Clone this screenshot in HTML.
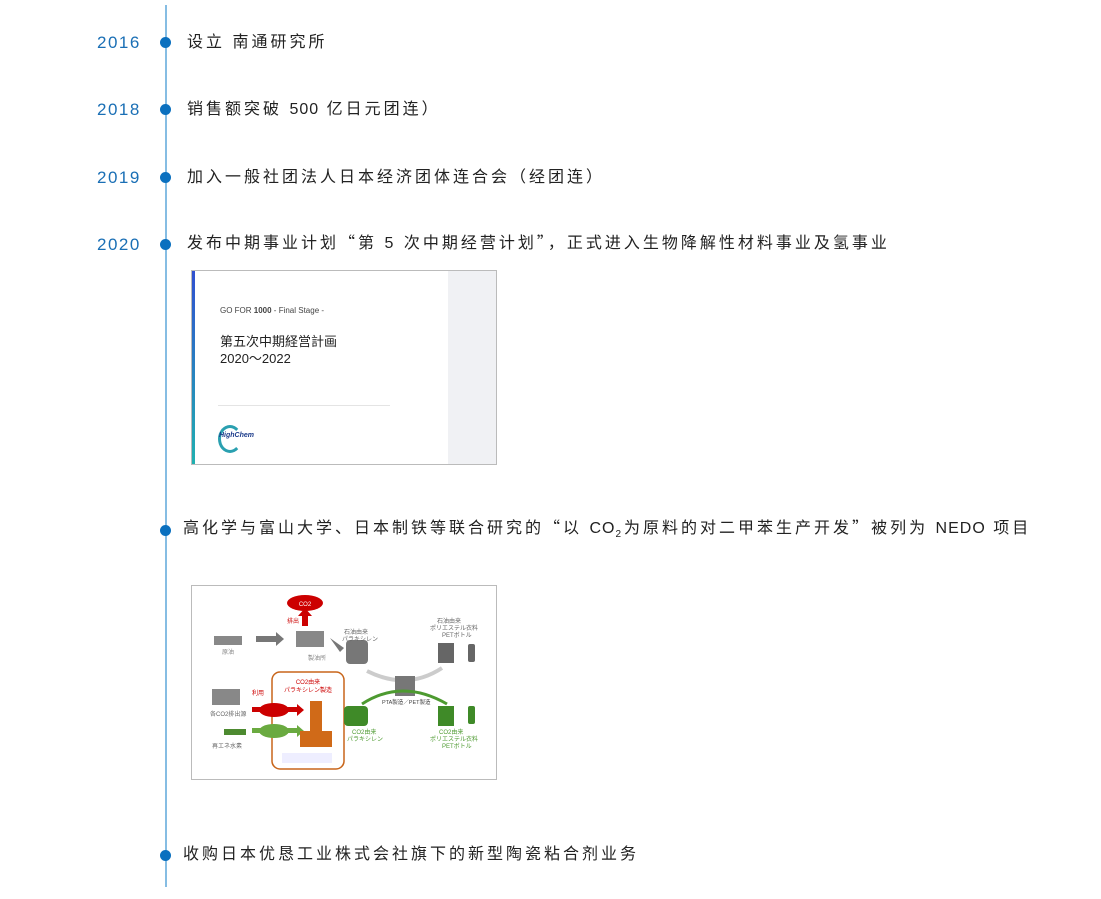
<!DOCTYPE html>
<html><head><meta charset="utf-8"><style>
body{margin:0;width:1101px;height:899px;background:#fff;position:relative;overflow:hidden;font-family:"Liberation Sans","Noto Sans CJK SC",sans-serif}
.line{position:absolute;left:165px;top:5px;width:2px;height:882px;background:#86bde3}
.dot{position:absolute;width:11px;height:11px;border-radius:50%;background:#0a70bf;left:160px}
.yr{position:absolute;left:97px;width:48px;color:#1a6fb5;font-size:17px;letter-spacing:1.5px;line-height:20px}
.t{position:absolute;left:187px;font-size:16px;letter-spacing:3px;color:#222;line-height:20px;white-space:nowrap}
.l{letter-spacing:1px}
.q{font-family:"Noto Sans CJK SC",sans-serif;line-height:1}
.img{position:absolute;left:191px;width:304px;border:1px solid #bbb;background:#fff}
</style></head><body>
<div class="line"></div>
<div class="yr" style="top:33px">2016</div><div class="dot" style="top:37px"></div><div class="t" style="top:33px">设立 南通研究所</div>
<div class="yr" style="top:100px">2018</div><div class="dot" style="top:104px"></div><div class="t" style="top:100px">销售额突破 <span class="l">500</span> 亿日元团连）</div>
<div class="yr" style="top:168px">2019</div><div class="dot" style="top:172px"></div><div class="t" style="top:168px">加入一般社团法人日本经济团体连合会（经团连）</div>
<div class="yr" style="top:235px">2020</div><div class="dot" style="top:239px"></div><div class="t" style="top:233px">发布中期事业计划<span class="q">“</span>第 5 次中期经营计划<span class="q">”</span>，正式进入生物降解性材料事业及氢事业</div>

<div class="img" style="top:270px;height:193px">
<div style="position:absolute;left:0;top:0;width:3px;height:193px;background:linear-gradient(#3050d0,#20b0b0)"></div>
<div style="position:absolute;left:256px;top:0;width:48px;height:193px;background:#f0f1f4"></div>
<div style="position:absolute;left:28px;top:35px;font-size:8px;color:#444">GO FOR <b>1000</b> - Final Stage -</div>
<div style="position:absolute;left:28px;top:62px;font-size:13px;color:#222;line-height:17px">第五次中期経営計画<br>2020～2022</div>
<div style="position:absolute;left:26px;top:134px;width:172px;height:1px;background:#e4e4e4"></div>
<div style="position:absolute;left:26px;top:154px;width:18px;height:22px;border-radius:50%;border:3px solid #2aa0b0;border-right-color:transparent"></div>
<div style="position:absolute;left:27px;top:161px;font-size:7px;font-weight:bold;font-style:italic;color:#1a3a8a">HighChem</div>
</div>

<div class="dot" style="top:525px"></div><div class="t" style="top:518px;left:183px">高化学与富山大学、日本制铁等联合研究的<span class="q">“</span>以 <span class="l">CO</span><sub style="font-size:10px;line-height:0">2</sub>为原料的对二甲苯生产开发<span class="q">”</span>被列为 <span class="l">NEDO</span> 项目</div>

<div class="img" style="top:585px;height:193px">
<svg width="304" height="193" viewBox="0 0 304 193" font-family="Liberation Sans,Noto Sans CJK JP,sans-serif">
<ellipse cx="113" cy="17" rx="18" ry="8" fill="#c00"/><text x="113" y="20" font-size="6" fill="#fff" text-anchor="middle">CO2</text>
<rect x="110" y="28" width="6" height="12" fill="#c00"/><polygon points="106,30 113,22 120,30" fill="#c00"/>
<text x="95" y="37" font-size="6" fill="#c00">排出</text>
<rect x="22" y="50" width="28" height="9" fill="#888"/><text x="30" y="68" font-size="6" fill="#888">原油</text>
<rect x="64" y="50" width="20" height="6" fill="#777"/><polygon points="84,46 92,53 84,60" fill="#777"/>
<rect x="104" y="45" width="28" height="16" fill="#888"/><text x="116" y="74" font-size="6" fill="#888">製油所</text>
<polygon points="138,52 152,62 148,66" fill="#777"/>
<rect x="154" y="54" width="22" height="24" rx="4" fill="#777"/><text x="152" y="48" font-size="6" fill="#666">石油由来</text><text x="150" y="55" font-size="6" fill="#666">パラキシレン</text>
<text x="245" y="37" font-size="6" fill="#666">石油由来</text><text x="238" y="44" font-size="6" fill="#666">ポリエステル衣料</text><text x="250" y="51" font-size="6" fill="#666">PETボトル</text>
<rect x="246" y="57" width="16" height="20" fill="#666"/><rect x="276" y="58" width="7" height="18" rx="2" fill="#666"/>
<path d="M175 85 Q215 105 250 82" stroke="#ccc" stroke-width="4" fill="none"/>
<rect x="203" y="90" width="20" height="20" fill="#777"/><text x="190" y="118" font-size="5.5" fill="#444">PTA製造／PET製造</text>
<path d="M170 118 Q210 92 255 118" stroke="#4d9a30" stroke-width="3" fill="none"/>
<rect x="80" y="86" width="72" height="97" rx="8" fill="#fff" stroke="#c8651a" stroke-width="1.5"/>
<text x="116" y="98" font-size="6" fill="#c00" text-anchor="middle">CO2由来</text><text x="116" y="106" font-size="6" fill="#c00" text-anchor="middle">パラキシレン製造</text>
<rect x="20" y="103" width="28" height="16" fill="#888"/><text x="18" y="130" font-size="6" fill="#666">各CO2排出源</text>
<ellipse cx="82" cy="124" rx="15" ry="7" fill="#c00"/><rect x="60" y="121" width="45" height="5" fill="#c00"/><polygon points="105,118 112,124 105,130" fill="#c00"/>
<text x="60" y="109" font-size="6" fill="#c00">利用</text>
<ellipse cx="82" cy="145" rx="15" ry="7" fill="#6aaa40"/><rect x="60" y="142" width="45" height="5" fill="#6aaa40"/><polygon points="105,139 112,145 105,151" fill="#6aaa40"/>
<text x="20" y="162" font-size="6" fill="#666">再エネ水素</text><rect x="32" y="143" width="22" height="6" fill="#4d8a30"/>
<rect x="118" y="115" width="12" height="45" fill="#d06a18"/><rect x="108" y="145" width="32" height="16" fill="#d06a18"/>
<rect x="90" y="167" width="50" height="10" fill="#eef"/>
<rect x="152" y="120" width="24" height="20" rx="4" fill="#3f8a28"/><text x="160" y="148" font-size="6" fill="#4d9a30">CO2由来</text><text x="155" y="155" font-size="6" fill="#4d9a30">パラキシレン</text>
<rect x="246" y="120" width="16" height="20" fill="#3f8a28"/><rect x="276" y="120" width="7" height="18" rx="2" fill="#3f8a28"/>
<text x="247" y="148" font-size="6" fill="#4d9a30">CO2由来</text><text x="238" y="155" font-size="6" fill="#4d9a30">ポリエステル衣料</text><text x="250" y="162" font-size="6" fill="#4d9a30">PETボトル</text>
</svg>
</div>

<div class="dot" style="top:850px"></div><div class="t" style="top:845px;left:183px">收购日本优恳工业株式会社旗下的新型陶瓷粘合剂业务</div>
</body></html>
